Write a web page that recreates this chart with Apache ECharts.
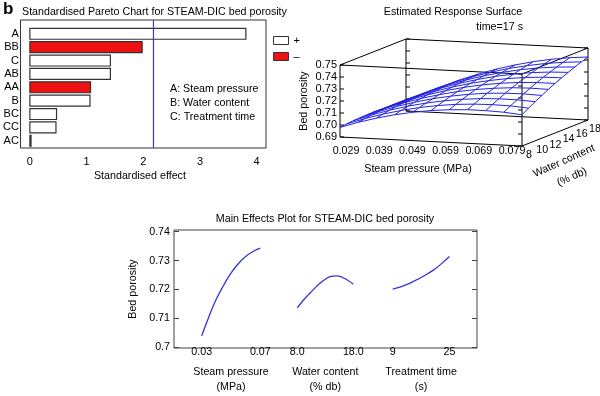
<!DOCTYPE html>
<html><head><meta charset="utf-8">
<script src="https://cdn.jsdelivr.net/npm/echarts@6/dist/echarts.min.js"></script>
<style>html,body{margin:0;padding:0;background:#fff}#c{width:600px;height:396px}</style>
</head><body><div id="c"></div>
<script>
const FONT = 'Liberation Sans, Arial, sans-serif';

// ---------- Pareto chart data ----------
const paretoTerms = ['A', 'BB', 'C', 'AB', 'AA', 'B', 'BC', 'CC', 'AC'];
const paretoEffects = [3.81, 1.98, 1.42, 1.42, 1.07, 1.06, 0.47, 0.46, 0.02];
const paretoSigns = ['+', '-', '+', '+', '-', '+', '+', '+', '+'];
const paretoCritical = 2.18;
const paretoTicks = [0, 1, 2, 3, 4];
const factorNotes = ['A: Steam pressure', 'B: Water content', 'C: Treatment time'];

// ---------- Response surface data (time = 17 s) ----------
const surfPressure = [0.029, 0.034, 0.039, 0.044, 0.049, 0.054, 0.059, 0.064, 0.069, 0.074, 0.079];
const surfWater = [8, 9, 10, 11, 12, 13, 14, 15, 16, 17, 18];
const surfPorosity = [
  [0.6980, 0.7030, 0.7072, 0.7108, 0.7136, 0.7158, 0.7172, 0.7180, 0.7180, 0.7174, 0.7160],
  [0.6987, 0.7039, 0.7084, 0.7122, 0.7154, 0.7178, 0.7195, 0.7205, 0.7208, 0.7205, 0.7194],
  [0.6992, 0.7047, 0.7095, 0.7136, 0.7169, 0.7196, 0.7216, 0.7229, 0.7235, 0.7234, 0.7226],
  [0.6995, 0.7053, 0.7104, 0.7147, 0.7184, 0.7213, 0.7236, 0.7252, 0.7260, 0.7262, 0.7256],
  [0.6997, 0.7058, 0.7111, 0.7157, 0.7196, 0.7229, 0.7254, 0.7272, 0.7284, 0.7288, 0.7285],
  [0.6998, 0.7061, 0.7117, 0.7166, 0.7208, 0.7243, 0.7271, 0.7292, 0.7306, 0.7313, 0.7313],
  [0.6996, 0.7062, 0.7121, 0.7172, 0.7217, 0.7255, 0.7285, 0.7309, 0.7326, 0.7336, 0.7338],
  [0.6993, 0.7062, 0.7123, 0.7178, 0.7225, 0.7265, 0.7299, 0.7325, 0.7345, 0.7357, 0.7362],
  [0.6989, 0.7060, 0.7124, 0.7181, 0.7231, 0.7274, 0.7310, 0.7340, 0.7362, 0.7377, 0.7385],
  [0.6983, 0.7057, 0.7123, 0.7183, 0.7236, 0.7282, 0.7321, 0.7352, 0.7377, 0.7395, 0.7406],
  [0.6975, 0.7052, 0.7121, 0.7184, 0.7239, 0.7288, 0.7329, 0.7364, 0.7391, 0.7412, 0.7425]
];
const surfPressureTicks = [0.029, 0.039, 0.049, 0.059, 0.069, 0.079];
const surfWaterTicks = [8, 10, 12, 14, 16, 18];
const surfPorosityTicks = [0.69, 0.70, 0.71, 0.72, 0.73, 0.74, 0.75];

// ---------- Main effects data ----------
const mePressure = [0.030, 0.035, 0.040, 0.045, 0.050, 0.055, 0.060, 0.065, 0.070];
const mePressureEffect = [0.7023, 0.7093, 0.7156, 0.7206, 0.7250, 0.7284, 0.7310, 0.7328, 0.7340];
const meWater = [8, 9, 10, 11, 12, 13, 14, 15, 16, 17, 18];
const meWaterEffect = [0.7124, 0.7150, 0.7172, 0.7193, 0.7212, 0.7228, 0.7238, 0.7240, 0.7235, 0.7224, 0.7210];
const meTime = [9, 11, 13, 15, 17, 19, 21, 23, 25];
const meTimeEffect = [0.7192, 0.7199, 0.7209, 0.7221, 0.7234, 0.7249, 0.7266, 0.7287, 0.7310];
const meYTicks = [0.70, 0.71, 0.72, 0.73, 0.74];

// ---------- 3D projection (layout) ----------
const P0 = 0.029, P1 = 0.079, W0 = 8, W1 = 18, Z0 = 0.69, Z1 = 0.75;
const ORIGIN = [340, 137], VX = [182, 9], VY = [66, -26], VZ = [0, -72];
function proj(p, w, z) {
  const fp = (p - P0) / (P1 - P0), fw = (w - W0) / (W1 - W0), fz = (z - Z0) / (Z1 - Z0);
  return [ORIGIN[0] + fp * VX[0] + fw * VY[0] + fz * VZ[0],
          ORIGIN[1] + fp * VX[1] + fw * VY[1] + fz * VZ[1]];
}

const graphics = [];
function txt(text, x, y, opt) {
  opt = opt || {};
  graphics.push({
    type: 'text', x: x, y: y, rotation: opt.rotation || 0, silent: true,
    style: { text: text, fontSize: opt.fontSize || 10.7, fontFamily: FONT, fontWeight: opt.fontWeight || 'normal',
      fill: '#000', align: opt.align || 'center', verticalAlign: 'middle' }
  });
}
function seg(a, b, color) {
  graphics.push({ type: 'line', silent: true, shape: { x1: a[0], y1: a[1], x2: b[0], y2: b[1] },
    style: { stroke: color || '#000', lineWidth: 1 } });
}

// titles
txt('b', 3, 9, { fontSize: 17, fontWeight: 'bold', align: 'left' });
txt('Standardised Pareto Chart for STEAM-DIC bed porosity', 22, 12, { align: 'left' });
txt('Estimated Response Surface', 453, 12);
txt('time=17 s', 523, 27, { align: 'right' });
txt('Main Effects Plot for STEAM-DIC bed porosity', 325, 219);
factorNotes.forEach((t, i) => txt(t, 170, 89.5 + i * 13.7, { align: 'left' }));

// 3D box
const corners = {
  flb: proj(P0, W0, Z0), frb: proj(P1, W0, Z0), blb: proj(P0, W1, Z0), brb: proj(P1, W1, Z0),
  flt: proj(P0, W0, Z1), frt: proj(P1, W0, Z1), blt: proj(P0, W1, Z1), brt: proj(P1, W1, Z1)
};
[['flt', 'frt'], ['frt', 'brt'], ['brt', 'blt'], ['blt', 'flt'],
 ['flb', 'flt'], ['frb', 'frt'], ['blb', 'blt'], ['brb', 'brt'],
 ['flb', 'frb'], ['frb', 'brb'], ['blb', 'brb']].forEach(e => seg(corners[e[0]], corners[e[1]]));
surfPorosityTicks.forEach(z => {
  const a = proj(P0, W0, z), b = proj(P0, W1, z), c = proj(P1, W0, z), d = proj(P1, W1, z);
  seg(a, [a[0] + 4, a[1]]); seg(b, [b[0] + 4, b[1]]);
  seg(c, [c[0] - 4, c[1]]); seg(d, [d[0] - 4, d[1]]);
  txt(z.toFixed(2), a[0] - 3, a[1], { align: 'right', fontSize: 11 });
});
surfPressureTicks.forEach(p => {
  const a = proj(p, W0, Z0), fp = (p - P0) / (P1 - P0);
  txt(String(p), a[0] + 6 - fp * 16, 151);
});
surfWaterTicks.forEach(w => {
  const a = proj(P1, w, Z0);
  txt(String(w), a[0] + 7, a[1] + 9);
});
txt('Steam pressure (MPa)', 418, 169);
txt('Bed porosity', 304, 101, { rotation: Math.PI / 2 });
txt('Water content', 564, 161, { rotation: 0.42 });
txt('(% db)', 572, 177, { rotation: 0.42 });

// mesh data: [kind, index] kind 0 = line of constant water, 1 = line of constant pressure
const meshItems = surfWater.map((w, i) => [0, i]).concat(surfPressure.map((p, j) => [1, j]));

const paretoPos = [], paretoNeg = [];
paretoTerms.forEach((t, i) => {
  (paretoSigns[i] === '+' ? paretoPos : paretoNeg).push([paretoEffects[i], i]);
});
const PY_MIN = -1.03, PY_MAX = 8.54;
function barRender(fill) {
  return function (params, api) {
    const v = api.value(0), i = api.value(1);
    const p0 = api.coord([0, i]), p1 = api.coord([v, i]);
    const h = api.size([0, 1])[1] * 0.82;
    return { type: 'rect', shape: { x: p0[0], y: p0[1] - h / 2, width: Math.max(p1[0] - p0[0], 0.6), height: h },
      style: { fill: fill, stroke: '#333', lineWidth: 1.2 } };
  };
}

const ME_MIN = 0.6997, ME_MAX = 0.7406;
const ME_TOP = 230, ME_H = 118;
const axisTxt = { fontFamily: FONT, fontSize: 10.7, color: '#000' };
function segAxis(grid, min, max, vals, fmt, name) {
  return { type: 'value', gridIndex: grid, min: min, max: max,
    axisLine: { show: false }, axisTick: { show: false }, splitLine: { show: false },
    axisLabel: Object.assign({ customValues: vals, formatter: fmt, margin: 4 }, axisTxt),
    name: name, nameLocation: 'middle', nameGap: 22,
    nameTextStyle: Object.assign({ lineHeight: 15 }, axisTxt) };
}
function hiddenY(grid) {
  return { type: 'value', gridIndex: grid, min: ME_MIN, max: ME_MAX, show: false };
}

const option = {
  animation: false,
  backgroundColor: '#fff',
  textStyle: { fontFamily: FONT },
  legend: {
    orient: 'vertical', left: 273, top: 35, itemWidth: 15, itemHeight: 8, itemGap: 5, padding: 0,
    selectedMode: false, icon: 'rect',
    textStyle: { fontFamily: FONT, fontSize: 11, color: '#000', lineHeight: 8 },
    data: [
      { name: '+', itemStyle: { color: '#fff', borderColor: '#333', borderWidth: 1 } },
      { name: '\u2013', itemStyle: { color: '#ee1111', borderColor: '#333', borderWidth: 1 } }
    ]
  },
  grid: [
    { left: 26.5, top: 20, width: 239.5, height: 128 },
    { left: 174, top: ME_TOP, width: 303, height: ME_H, show: true, borderColor: '#444', borderWidth: 1 },
    { left: 201.7, top: ME_TOP, width: 58.6, height: ME_H },
    { left: 297.3, top: ME_TOP, width: 56, height: ME_H },
    { left: 392.7, top: ME_TOP, width: 56.8, height: ME_H },
    { left: 20.5, top: 20, width: 245.5, height: 128, show: true, borderColor: '#333', borderWidth: 1 }
  ],
  xAxis: [
    { type: 'value', gridIndex: 0, min: 0, max: 4.165,
      axisLine: { show: false }, axisTick: { show: false }, splitLine: { show: false },
      axisLabel: Object.assign({ customValues: paretoTicks, margin: 8 }, axisTxt, { fontSize: 11 }),
      name: 'Standardised effect', nameLocation: 'middle', nameGap: 23,
      nameTextStyle: Object.assign({ padding: [0, 16, 0, 0] }, axisTxt) },
    { type: 'value', gridIndex: 1, min: 0, max: 1, show: false },
    segAxis(2, 0.03, 0.07, [0.03, 0.07], v => v.toFixed(2), 'Steam pressure\n(MPa)'),
    segAxis(3, 8, 18, [8, 18], v => v.toFixed(1), 'Water content\n(% db)'),
    segAxis(4, 9, 25, [9, 25], v => String(v), 'Treatment time\n(s)'),
    { type: 'value', gridIndex: 5, min: 0, max: 1, show: false }
  ],
  yAxis: [
    { type: 'value', gridIndex: 0, inverse: true, min: PY_MIN, max: PY_MAX,
      axisLine: { show: false }, axisTick: { show: false }, splitLine: { show: false },
      axisLabel: Object.assign({ customValues: paretoTerms.map((t, i) => i), formatter: v => paretoTerms[v], margin: 11 },
        axisTxt, { fontSize: 11 }) },
    { type: 'value', gridIndex: 1, min: ME_MIN, max: ME_MAX,
      axisLine: { show: false }, splitLine: { show: false },
      axisTick: { inside: true, length: 5, customValues: meYTicks, lineStyle: { color: '#444' } },
      axisLabel: Object.assign({ customValues: meYTicks, formatter: v => String(+v.toFixed(2)), margin: 4 }, axisTxt),
      name: 'Bed porosity', nameLocation: 'middle', nameGap: 28, nameTextStyle: axisTxt },
    { type: 'value', gridIndex: 1, position: 'right', min: ME_MIN, max: ME_MAX,
      axisLine: { show: false }, splitLine: { show: false },
      axisTick: { inside: true, length: 5, customValues: meYTicks, lineStyle: { color: '#444' } },
      axisLabel: { show: false } },
    hiddenY(2), hiddenY(3), hiddenY(4),
    { type: 'value', gridIndex: 5, min: 0, max: 1, show: false }
  ],
  graphic: graphics,
  series: [
    { name: '+', type: 'custom', xAxisIndex: 0, yAxisIndex: 0, data: paretoPos, renderItem: barRender('#fff'),
      itemStyle: { color: '#fff', borderColor: '#333', borderWidth: 1 }, silent: true },
    { name: '\u2013', type: 'custom', xAxisIndex: 0, yAxisIndex: 0, data: paretoNeg, renderItem: barRender('#ee1111'),
      itemStyle: { color: '#ee1111', borderColor: '#333', borderWidth: 1 }, silent: true },
    { type: 'line', xAxisIndex: 0, yAxisIndex: 0, data: [[paretoCritical, PY_MIN], [paretoCritical, PY_MAX]],
      symbol: 'none', lineStyle: { color: '#3c3cc0', width: 1.2 }, silent: true },
    { type: 'custom', coordinateSystem: 'none', data: meshItems, silent: true,
      renderItem: function (params, api) {
        const kind = api.value(0), idx = api.value(1);
        const pts = kind === 0
          ? surfPressure.map((p, j) => proj(p, surfWater[idx], surfPorosity[idx][j]))
          : surfWater.map((w, i) => proj(surfPressure[idx], w, surfPorosity[i][idx]));
        return { type: 'polyline', shape: { points: pts }, style: { stroke: '#2424e0', lineWidth: 1, fill: null } };
      } },
    { type: 'line', xAxisIndex: 2, yAxisIndex: 3, data: mePressure.map((x, i) => [x, mePressureEffect[i]]),
      symbol: 'none', smooth: true, lineStyle: { color: '#3535d5', width: 1.3 }, silent: true },
    { type: 'line', xAxisIndex: 3, yAxisIndex: 4, data: meWater.map((x, i) => [x, meWaterEffect[i]]),
      symbol: 'none', smooth: true, lineStyle: { color: '#3535d5', width: 1.3 }, silent: true },
    { type: 'line', xAxisIndex: 4, yAxisIndex: 5, data: meTime.map((x, i) => [x, meTimeEffect[i]]),
      symbol: 'none', smooth: true, lineStyle: { color: '#3535d5', width: 1.3 }, silent: true }
  ]
};
const chart = echarts.init(document.getElementById('c'), null, { renderer: 'canvas' });
chart.setOption(option);
</script>
</body></html>
